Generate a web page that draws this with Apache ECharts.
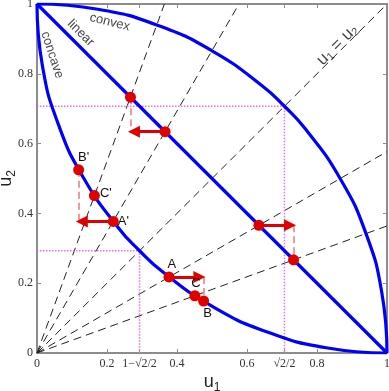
<!DOCTYPE html>
<html>
<head>
<meta charset="utf-8">
<script src="https://cdn.jsdelivr.net/npm/echarts@6/dist/echarts.min.js"></script>
</head>
<body style="margin:0">
<div id="main" style="width:389px;height:391px;"></div>
<script>
// curves (points read along the arcs)
var convexU1 = [0, 0.174, 0.342, 0.5, 0.643, 0.707, 0.766, 0.866, 0.940, 0.985, 1];
var convexU2 = [1, 0.985, 0.940, 0.866, 0.766, 0.707, 0.643, 0.5, 0.342, 0.174, 0];
var concaveU1 = [0, 0.015, 0.060, 0.134, 0.234, 0.293, 0.357, 0.5, 0.658, 0.826, 1];
var concaveU2 = [1, 0.826, 0.658, 0.5, 0.357, 0.293, 0.234, 0.134, 0.060, 0.015, 0];
var linearU1 = [0, 1];
var linearU2 = [1, 0];

// dashed rays from the origin, end points on the box
var rayEnds = [[0.364, 1], [0.577, 1], [1, 1], [1, 0.577], [1, 0.364]];

// red points
var pointNames = ['', '', '', '', 'A', 'B', 'C', "A'", "B'", "C'"];
var pointU1 = [0.267, 0.366, 0.634, 0.733, 0.377, 0.476, 0.451, 0.218, 0.119, 0.164];
var pointU2 = [0.733, 0.634, 0.366, 0.267, 0.218, 0.149, 0.164, 0.377, 0.525, 0.451];

// arrows and dashed drops
var arrowFrom = [[0.366, 0.634], [0.634, 0.366], [0.218, 0.377], [0.377, 0.218]];
var arrowTo = [[0.277, 0.634], [0.723, 0.366], [0.128, 0.377], [0.464, 0.218]];
var dropFrom = [[0.267, 0.733], [0.733, 0.366], [0.119, 0.525], [0.476, 0.218]];
var dropTo = [[0.267, 0.634], [0.733, 0.267], [0.119, 0.377], [0.476, 0.149]];

// magenta guides
var guideHigh = [[0, 0.707], [0.707, 0.707], [0.707, 0]];
var guideLow = [[0, 0.293], [0.293, 0.293], [0.293, 0]];

// ticks
var xTickVals = [0, 0.2, 0.2929, 0.4, 0.6, 0.7071, 0.8, 1];
var xTickText = ['0', '0.2', '1\u2212\u221a2/2', '0.4', '0.6', '\u221a2/2', '0.8', '1'];
var yTickVals = [0, 0.2, 0.4, 0.6, 0.8, 1];

// text notes
var notes = ['convex', 'linear', 'concave', 'u{s|1} = u{s|2}'];
var noteU1 = [0.208, 0.125, 0.043, 0.858];
var noteU2 = [0.948, 0.917, 0.854, 0.883];
var noteRot = [-14, -45, -72, 45];
var noteSize = [13, 13, 13, 17];

var labelPlace = {
  'A': ['top', [3, 2]],
  'B': ['bottom', [4, -2]],
  'C': ['top', [1, 2]],
  "A'": ['right', [-3, 0]],
  "B'": ['top', [5, 2]],
  "C'": ['right', [-2, -2]]
};

function zip(a, b) { return a.map(function (v, i) { return [v, b[i]]; }); }

var gray = '#8c8c8c';
var serif = 'Liberation Serif';
var sans = 'Liberation Sans';

function axisX(pos, labels) {
  return {
    type: 'value', min: 0, max: 1, position: pos,
    axisLine: { onZero: false, lineStyle: { color: gray, width: 2 } },
    axisTick: { inside: true, length: 4, customValues: xTickVals, lineStyle: { color: gray, width: 1 } },
    axisLabel: {
      show: labels, customValues: xTickVals, margin: 5,
      fontFamily: serif, fontSize: 12, color: '#333',
      formatter: function (v) {
        var best = 0;
        for (var i = 0; i < xTickVals.length; i++) {
          if (Math.abs(xTickVals[i] - v) < Math.abs(xTickVals[best] - v)) best = i;
        }
        return xTickText[best];
      }
    },
    splitLine: { show: false }
  };
}
function axisY(pos, labels) {
  return {
    type: 'value', min: 0, max: 1, position: pos,
    axisLine: { onZero: false, lineStyle: { color: gray, width: 2 } },
    axisTick: { inside: true, length: 4, customValues: yTickVals, lineStyle: { color: gray, width: 1 } },
    axisLabel: { show: labels, customValues: yTickVals, margin: 4, fontFamily: serif, fontSize: 12, color: '#333' },
    splitLine: { show: false }
  };
}

var nameStyle = { fontFamily: sans, fontSize: 18, color: '#222', rich: { s: { fontSize: 12, padding: [12, 0, 0, 0], fontFamily: sans, color: '#222' } } };
var xa = axisX('bottom', true);
xa.name = 'u{s|1}';
xa.nameLocation = 'middle';
xa.nameGap = 17;
xa.nameMoveOverlap = false;
xa.nameTextStyle = nameStyle;
var ya = axisY('left', true);
ya.name = 'u{s|2}';
ya.nameLocation = 'middle';
ya.nameGap = 19;
ya.nameRotate = 90;
ya.nameMoveOverlap = false;
ya.nameTextStyle = nameStyle;

var red = '#e00000';
var blue = '#0000ff';

var series = [];
series.push({
  type: 'lines', coordinateSystem: 'cartesian2d', silent: true, z: 1,
  lineStyle: { color: '#222', width: 1, type: [8, 5], opacity: 1 },
  data: rayEnds.map(function (e) { return { coords: [[0, 0], e] }; })
});
[guideHigh, guideLow].forEach(function (g) {
  series.push({
    type: 'line', data: g, showSymbol: false, silent: true, z: 2,
    lineStyle: { color: '#ea6cf0', width: 1.5, type: 'dotted' }
  });
});
[[convexU1, convexU2, true], [concaveU1, concaveU2, true], [linearU1, linearU2, false]].forEach(function (c) {
  series.push({
    type: 'line', data: zip(c[0], c[1]), smooth: c[2] ? 0.5 : false, showSymbol: false, silent: true, z: 3,
    lineStyle: { color: blue, width: 3.2 }
  });
});
series.push({
  type: 'lines', coordinateSystem: 'cartesian2d', silent: true, z: 4,
  lineStyle: { color: '#ee7777', width: 1.5, type: [7, 4], opacity: 1 },
  data: dropFrom.map(function (p, i) { return { coords: [p, dropTo[i]] }; })
});
series.push({
  type: 'lines', coordinateSystem: 'cartesian2d', silent: true, z: 5,
  symbol: ['none', 'triangle'], symbolSize: 12,
  lineStyle: { color: red, width: 3, opacity: 1 },
  data: arrowFrom.map(function (p, i) { return { coords: [p, arrowTo[i]] }; })
});
series.push({
  type: 'scatter', silent: true, z: 6, symbolSize: 11,
  itemStyle: { color: red, opacity: 1 },
  data: pointU1.map(function (u, i) {
    var n = pointNames[i];
    var d = { value: [u, pointU2[i]], name: n };
    if (n) {
      d.label = { show: true, formatter: n, position: labelPlace[n][0], offset: labelPlace[n][1], distance: 2,
        fontFamily: sans, fontSize: 13, color: '#111' };
    }
    return d;
  })
});
series.push({
  type: 'scatter', silent: true, z: 7, symbolSize: 0,
  data: notes.map(function (t, i) {
    return {
      value: [noteU1[i], noteU2[i]],
      label: { show: true, position: 'inside', formatter: t, rotate: noteRot[i],
        fontFamily: sans, fontSize: noteSize[i], color: '#111',
        rich: { s: { fontSize: 11, padding: [8, 0, 0, 0], fontFamily: sans, color: '#111' } } }
    };
  })
});

var chart = echarts.init(document.getElementById('main'));
chart.setOption({
  animation: false,
  grid: { left: 37, right: 2, top: 4, bottom: 38, outerBoundsMode: 'none', containLabel: false },
  xAxis: [xa, axisX('top', false)],
  yAxis: [ya, axisY('right', false)],
  series: series
});
</script>
</body>
</html>
